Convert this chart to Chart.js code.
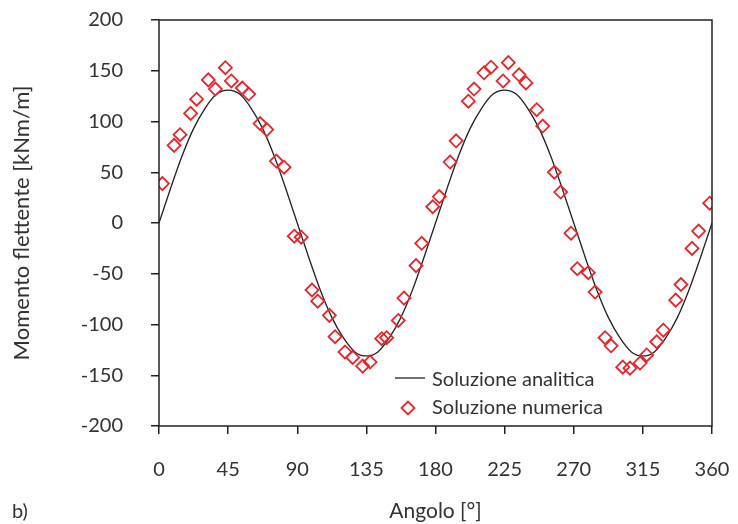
<!DOCTYPE html>
<html>
<head>
<meta charset="utf-8">
<script src="https://cdn.jsdelivr.net/npm/chart.js@4/dist/chart.umd.min.js"></script>
<style>
  html, body { margin: 0; padding: 0; background: #fff; }
  canvas { display: block; }
</style>
</head>
<body>
<canvas id="momento" width="738" height="524"></canvas>
<script>
// Soluzione analitica (curva continua)
const angoliAnalitica = [
    0, 7.5, 15, 22.5, 30, 37.5, 45, 52.5, 60, 67.5, 75, 82.5, 90,
    97.5, 105, 112.5, 120, 127.5, 135, 142.5, 150, 157.5, 165, 172.5, 180,
    187.5, 195, 202.5, 210, 217.5, 225, 232.5, 240, 247.5, 255, 262.5, 270,
    277.5, 285, 292.5, 300, 307.5, 315, 322.5, 330, 337.5, 345, 352.5, 360
];
const momentoAnalitica = [
    0, 34, 66, 93, 113, 127, 131, 127, 113, 93, 66, 34, 0,
    -34, -66, -93, -113, -127, -131, -127, -113, -93, -66, -34, 0,
    34, 66, 93, 113, 127, 131, 127, 113, 93, 66, 34, 0,
    -34, -66, -93, -113, -127, -131, -127, -113, -93, -66, -34, 0
];

// Soluzione numerica (punti)
const angoliNumerica = [
    2.2, 9.8, 13.7, 20.6, 24.5, 32.1, 36.7, 43.2, 47.1, 54.2, 58.4, 65.8,
    70.1, 76.4, 81.4, 88.1, 92.6, 99.6, 103.3, 110.9, 114.6, 121.1, 126.1,
    132.6, 137.4, 145, 148.2, 155.8, 159.5, 167.3, 171, 178.2, 182.5, 189.5,
    193.4, 201.4, 205.1, 211.6, 216.1, 224, 227.4, 234.4, 238.9, 245.9,
    249.8, 257.4, 261.5, 268.2, 272.3, 279.5, 283.9, 290.4, 294.3, 301.9,
    306.6, 313.2, 317.5, 324, 328.3, 336.4, 339.8, 347, 351.3, 358.5
];
const momentoNumerica = [
    38.8, 76.5, 87, 108, 122, 141, 132, 153, 140, 133, 127, 98,
    92, 61, 55, -13, -14, -66, -77, -91, -112, -127, -132.5,
    -141, -137, -114, -113, -96, -74, -42, -20, 16, 26, 60,
    81, 120, 132, 148, 153.5, 140, 158, 146, 138, 111.6,
    95.5, 50, 30.5, -10, -45, -49, -68, -113, -121, -142,
    -143, -138, -130, -117, -105.6, -76, -60.6, -25, -8, 19.5
];

const tickAngoli = [0, 45, 90, 135, 180, 225, 270, 315, 360];

const ROSSO = '#e8262b';
const NERO = '#222';
const TESTO = '#333';
const FONT = 'Lato, "Open Sans", sans-serif';

Chart.defaults.font.family = FONT;
Chart.defaults.font.size = 20;
Chart.defaults.color = TESTO;

// riquadro attorno all'area del grafico, legenda interna ed etichetta "b)"
const cornice = {
    id: 'cornice',
    afterDraw(chart) {
        const { ctx, chartArea: { left, top, right, bottom } } = chart;
        ctx.save();
        ctx.strokeStyle = NERO;
        ctx.lineWidth = 1.5;
        ctx.strokeRect(left, top, right - left, bottom - top);

        // legenda
        ctx.font = '20px ' + FONT;
        ctx.fillStyle = TESTO;
        ctx.textAlign = 'left';
        ctx.textBaseline = 'middle';

        ctx.strokeStyle = NERO;
        ctx.lineWidth = 1.3;
        ctx.beginPath();
        ctx.moveTo(right - 317, bottom - 48);
        ctx.lineTo(right - 287, bottom - 48);
        ctx.stroke();
        ctx.fillText('Soluzione analitica', right - 280, bottom - 46);

        ctx.save();
        ctx.strokeStyle = ROSSO;
        ctx.fillStyle = 'rgba(0,0,0,0)';
        ctx.lineWidth = 1.8;
        Chart.helpers.drawPoint(ctx, { pointStyle: 'rectRot', radius: 6.5, borderWidth: 1.8 }, right - 304, bottom - 18);
        ctx.restore();
        ctx.fillText('Soluzione numerica', right - 280, bottom - 18);

        ctx.fillText('b)', 12, 512);
        ctx.restore();
    }
};

new Chart(document.getElementById('momento'), {
    type: 'scatter',
    plugins: [cornice],
    data: {
        datasets: [
            {
                label: 'Soluzione analitica',
                type: 'line',
                data: angoliAnalitica.map((a, i) => ({ x: a, y: momentoAnalitica[i] })),
                borderColor: NERO,
                borderWidth: 1.3,
                pointRadius: 0,
                cubicInterpolationMode: 'monotone',
                fill: false,
                order: 2
            },
            {
                label: 'Soluzione numerica',
                data: angoliNumerica.map((a, i) => ({ x: a, y: momentoNumerica[i] })),
                pointStyle: 'rectRot',
                pointRadius: 6.5,
                pointBorderWidth: 1.8,
                borderColor: ROSSO,
                backgroundColor: 'rgba(0,0,0,0)',
                order: 1
            }
        ]
    },
    options: {
        responsive: false,
        animation: false,
        devicePixelRatio: 1,
        layout: { padding: { left: 0, right: 26, top: 20, bottom: 0 } },
        plugins: {
            legend: { display: false },
            tooltip: { enabled: false }
        },
        scales: {
            x: {
                type: 'linear',
                min: 0,
                max: 360,
                afterBuildTicks: scale => {
                    scale.ticks = tickAngoli.map(v => ({ value: v }));
                },
                afterFit: scale => {
                    scale.height = 98;
                    scale.paddingLeft = 0;
                    scale.paddingRight = 0;
                },
                border: { display: false },
                grid: {
                    drawOnChartArea: false,
                    drawTicks: true,
                    tickLength: 8,
                    color: NERO,
                    lineWidth: 1.5
                },
                ticks: {
                    autoSkip: false,
                    maxRotation: 0,
                    padding: 24,
                    color: TESTO
                },
                title: {
                    display: true,
                    text: 'Angolo [°]',
                    color: TESTO,
                    font: { size: 21 },
                    padding: { top: 0, bottom: 0 }
                }
            },
            y: {
                min: -200,
                max: 200,
                afterFit: scale => {
                    scale.width = 159;
                    scale.paddingTop = 0;
                    scale.paddingBottom = 0;
                },
                border: { display: false },
                grid: {
                    drawOnChartArea: false,
                    drawTicks: true,
                    tickLength: 8,
                    color: NERO,
                    lineWidth: 1.5
                },
                ticks: {
                    stepSize: 50,
                    padding: 28,
                    color: TESTO
                },
                title: {
                    display: true,
                    text: 'Momento flettente [kNm/m]',
                    color: TESTO,
                    font: { size: 22 },
                    padding: { top: 9, bottom: 0 }
                }
            }
        }
    }
});
</script>
</body>
</html>
